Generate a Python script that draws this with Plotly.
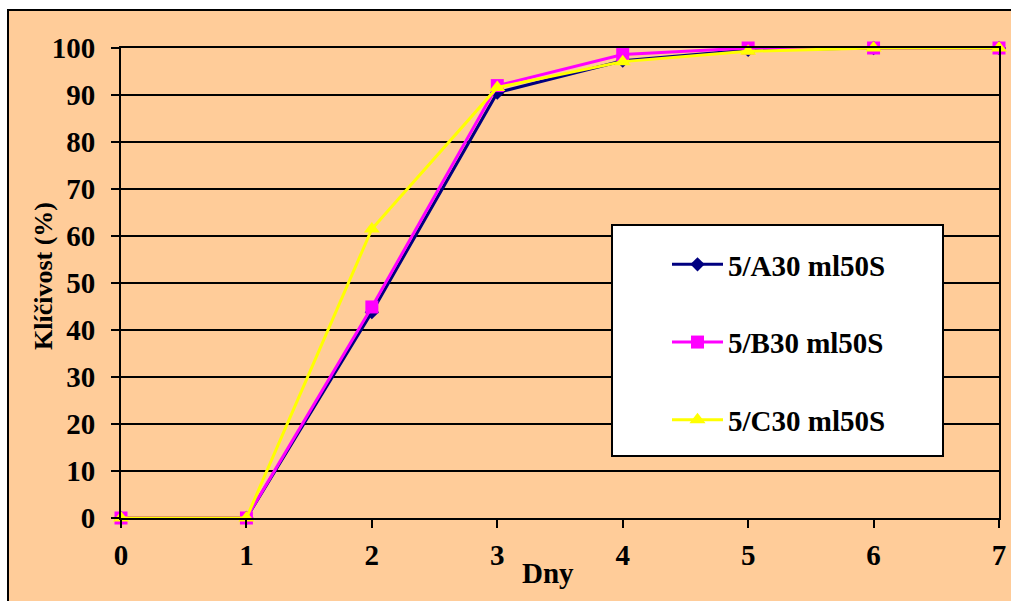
import plotly.graph_objects as go

days = [0, 1, 2, 3, 4, 5, 6, 7]
series_names = ["5/A30 ml50S", "5/B30 ml50S", "5/C30 ml50S"]
vals_a = [0, 0, 43.8, 90.5, 97.3, 99.6, 100, 100]
vals_b = [0, 0, 44.9, 92.0, 98.6, 100, 100, 100]
vals_c = [0, 0, 61.5, 91.6, 97.1, 99.3, 100, 100]
y_ticks = [0, 10, 20, 30, 40, 50, 60, 70, 80, 90, 100]

colors = ["#000080", "#FF00FF", "#FFFF00"]
symbols = ["diamond", "square", "triangle-up"]
sizes = [11, 13, 14]

W, H = 1011, 601
PL, PR, PT, PB = 121, 999, 48, 518  # plot area in pixels
L, R, T, B = PL, W - PR, PT, H - PB
pw, ph = PR - PL, PB - PT


def px(x):
    return (x - PL) / pw


def py(y):
    return (PB - y) / ph


FONT = "Liberation Serif"
PEACH = "#FFCC99"

fig = go.Figure()
for name, vals, c, s, sz in zip(series_names, [vals_a, vals_b, vals_c], colors, symbols, sizes):
    fig.add_trace(go.Scatter(
        x=days, y=vals, name=name, mode="lines+markers",
        line=dict(color=c, width=3),
        marker=dict(color=c, symbol=s, size=sz),
        cliponaxis=False, legendgroup=name,
    ))

fig.update_layout(
    width=W, height=H,
    margin=dict(l=L, r=R, t=T, b=B, pad=0),
    paper_bgcolor="white", plot_bgcolor=PEACH,
    font=dict(family=FONT, size=29, color="black"),
    showlegend=True,
    legend=dict(
        x=px(667), y=py(239), xanchor="left", yanchor="top",
        bgcolor="rgba(0,0,0,0)", borderwidth=0,
        font=dict(family=FONT, size=29, color="black", weight="bold"),
        tracegroupgap=37, itemwidth=51,
    ),
    xaxis=dict(
        range=[0, 7], tickvals=days, ticks="outside", ticklen=8, tickwidth=2,
        tickcolor="black", showline=True, linecolor="black", linewidth=2,
        mirror=True, showgrid=False, zeroline=False, automargin=False,
        tickfont=dict(family=FONT, size=29, weight="bold"),
        ticklabelstandoff=2, ticklabeloverflow="allow",
    ),
    yaxis=dict(
        range=[0, 100], tickvals=y_ticks, ticks="outside", ticklen=8, tickwidth=2,
        tickcolor="black", showline=True, linecolor="black", linewidth=2,
        mirror=True, showgrid=True, gridcolor="black", gridwidth=2, zeroline=False,
        automargin=False,
        tickfont=dict(family=FONT, size=29, weight="bold"),
        ticklabelstandoff=10,
    ),
    shapes=[
        dict(type="rect", xref="paper", yref="paper", layer="below",
             x0=px(8), y0=py(640), x1=px(1040), y1=py(10),
             fillcolor=PEACH, line=dict(color="black", width=2)),
        dict(type="rect", xref="paper", yref="paper", layer="above",
             x0=px(612), y0=py(456), x1=px(943), y1=py(225),
             fillcolor="white", line=dict(color="black", width=2)),
    ],
    annotations=[
        dict(text="<b>Klíčivost (%)</b>", xref="paper", yref="paper",
             x=px(43), y=py(276), xanchor="center", yanchor="middle",
             showarrow=False, textangle=-90,
             font=dict(family=FONT, size=26, color="black")),
        dict(text="<b>Dny</b>", xref="paper", yref="paper",
             x=px(548), y=py(573), xanchor="center", yanchor="middle",
             showarrow=False,
             font=dict(family=FONT, size=29, color="black")),
    ],
)

fig.write_html(
    "out.html",
    config={"displayModeBar": False},
    post_script="document.body.style.margin='0';document.body.style.overflow='hidden';",
)
